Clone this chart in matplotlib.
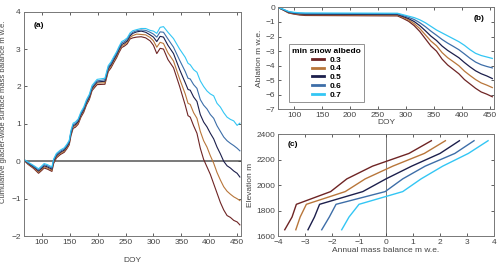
import numpy as np
import matplotlib
matplotlib.use("Agg")
import matplotlib.pyplot as plt

plt.rcParams['font.family'] = ['Liberation Sans', 'DejaVu Sans']

albedo = ['0.3', '0.4', '0.5', '0.6', '0.7']
colors = ['#6e2424', '#b8763a', '#1c1f4c', '#3d6ea8', '#33c6f4']

# (a) cumulative glacier-wide surface mass balance
doy_a = [67, 75, 85, 94, 100, 104, 110, 118, 121, 126, 133, 140, 145, 149, 152,
         156, 160, 165, 170, 175, 180, 185, 190, 195, 199, 213, 219, 224, 229, 234,
         238, 243, 248, 253, 258, 263, 270, 278, 286, 294, 300, 306, 312, 318, 326,
         336, 347, 357, 362, 366, 372, 378, 384, 390, 396, 402, 408, 414, 420, 426,
         432, 438, 444, 450, 455]
smb_03 = [0.04, -0.08, -0.19, -0.32, -0.24, -0.18, -0.21, -0.27, -0.06, 0.09, 0.18, 0.24, 0.34, 0.44, 0.68,
          0.88, 0.91, 0.99, 1.18, 1.31, 1.51, 1.65, 1.89, 1.98, 2.05, 2.06, 2.40, 2.50, 2.64, 2.77,
          2.90, 3.04, 3.08, 3.14, 3.27, 3.30, 3.32, 3.33, 3.30, 3.22, 3.10, 2.88, 3.02, 3.00, 2.72,
          2.50, 2.00, 1.50, 1.22, 1.18, 0.95, 0.75, 0.35, 0.05, -0.15, -0.35, -0.60, -0.85, -1.10, -1.30,
          -1.45, -1.50, -1.58, -1.62, -1.70]
smb_04 = [0.045, -0.065, -0.17, -0.29, -0.21, -0.15, -0.18, -0.24, -0.03, 0.12, 0.21, 0.27, 0.37, 0.47, 0.72,
          0.92, 0.95, 1.02, 1.22, 1.35, 1.55, 1.69, 1.93, 2.02, 2.09, 2.10, 2.44, 2.54, 2.68, 2.81,
          2.94, 3.08, 3.12, 3.18, 3.31, 3.36, 3.40, 3.39, 3.38, 3.31, 3.22, 3.05, 3.18, 3.15, 2.90,
          2.68, 2.20, 1.80, 1.55, 1.52, 1.30, 1.15, 0.80, 0.55, 0.38, 0.15, -0.05, -0.30, -0.50, -0.68,
          -0.80, -0.88, -0.95, -1.00, -1.05]
smb_05 = [0.05, -0.05, -0.15, -0.26, -0.18, -0.12, -0.15, -0.21, 0.0, 0.15, 0.24, 0.30, 0.40, 0.50, 0.75,
          0.95, 0.98, 1.06, 1.25, 1.38, 1.58, 1.72, 1.96, 2.05, 2.12, 2.14, 2.48, 2.58, 2.72, 2.85,
          2.98, 3.12, 3.16, 3.22, 3.35, 3.42, 3.46, 3.48, 3.45, 3.38, 3.32, 3.20, 3.34, 3.32, 3.10,
          2.88, 2.45, 2.10, 1.92, 1.90, 1.72, 1.60, 1.25, 1.05, 0.92, 0.75, 0.60, 0.38, 0.20, 0.00,
          -0.12, -0.18, -0.26, -0.32, -0.42]
smb_06 = [0.055, -0.035, -0.13, -0.23, -0.15, -0.09, -0.12, -0.18, 0.03, 0.18, 0.27, 0.33, 0.43, 0.53, 0.78,
          0.98, 1.01, 1.10, 1.28, 1.41, 1.61, 1.75, 1.99, 2.08, 2.15, 2.18, 2.52, 2.62, 2.76, 2.89,
          3.02, 3.16, 3.20, 3.26, 3.39, 3.45, 3.49, 3.51, 3.50, 3.45, 3.40, 3.32, 3.46, 3.45, 3.27,
          3.05, 2.70, 2.40, 2.22, 2.20, 2.05, 1.95, 1.65, 1.50, 1.40, 1.25, 1.15, 0.95, 0.80, 0.65,
          0.55, 0.48, 0.42, 0.35, 0.28]
smb_07 = [0.06, -0.02, -0.11, -0.20, -0.12, -0.06, -0.09, -0.15, 0.06, 0.21, 0.30, 0.36, 0.46, 0.56, 0.82,
          1.02, 1.05, 1.13, 1.32, 1.45, 1.65, 1.79, 2.03, 2.12, 2.19, 2.22, 2.56, 2.66, 2.80, 2.93,
          3.06, 3.20, 3.24, 3.30, 3.43, 3.49, 3.52, 3.55, 3.55, 3.50, 3.48, 3.42, 3.58, 3.60, 3.45,
          3.28, 3.00, 2.78, 2.62, 2.58, 2.45, 2.38, 2.15, 2.00, 1.88, 1.80, 1.75, 1.55, 1.45, 1.30,
          1.18, 1.12, 1.08, 0.96, 1.02]

# (b) cumulative ablation
doy_b = [71, 80, 90, 100, 110, 120, 285, 295, 305, 315, 325, 335, 345, 355, 365,
         375, 385, 395, 405, 415, 425, 435, 445, 455]
abl_03 = [0, -0.17, -0.38, -0.46, -0.52, -0.55, -0.58, -0.75, -0.95, -1.25, -1.65, -2.15, -2.65, -3.00, -3.55,
          -3.95, -4.25, -4.55, -4.95, -5.25, -5.55, -5.80, -5.95, -6.13]
abl_04 = [0, -0.16, -0.36, -0.43, -0.48, -0.50, -0.53, -0.68, -0.86, -1.11, -1.45, -1.88, -2.31, -2.63, -3.10,
          -3.45, -3.72, -4.00, -4.37, -4.67, -4.95, -5.18, -5.33, -5.50]
abl_05 = [0, -0.15, -0.33, -0.40, -0.44, -0.46, -0.49, -0.62, -0.77, -0.97, -1.25, -1.60, -1.97, -2.27, -2.65,
          -2.95, -3.20, -3.45, -3.78, -4.08, -4.35, -4.55, -4.70, -4.88]
abl_06 = [0, -0.13, -0.30, -0.37, -0.40, -0.42, -0.44, -0.56, -0.68, -0.83, -1.05, -1.32, -1.63, -1.91, -2.20,
          -2.45, -2.67, -2.90, -3.19, -3.49, -3.75, -3.93, -4.05, -4.15]
abl_07 = [0, -0.12, -0.28, -0.34, -0.37, -0.38, -0.40, -0.50, -0.60, -0.70, -0.85, -1.05, -1.30, -1.55, -1.75,
          -1.95, -2.15, -2.35, -2.60, -2.90, -3.15, -3.30, -3.40, -3.50]

# (c) annual mass balance profiles
elev = [1650, 1750, 1850, 1950, 2050, 2150, 2250, 2350]
mb_03 = [-3.75, -3.48, -3.32, -2.05, -1.45, -0.50, 0.85, 1.68]
mb_04 = [-3.34, -3.18, -2.95, -1.51, -0.77, 0.25, 1.42, 2.20]
mb_05 = [-2.89, -2.65, -2.46, -0.86, 0.00, 0.95, 2.00, 2.72]
mb_06 = [-2.38, -2.10, -1.85, -0.03, 0.62, 1.45, 2.55, 3.26]
mb_07 = [-1.64, -1.37, -1.00, 0.62, 1.30, 2.10, 3.05, 3.78]

smb = [smb_03, smb_04, smb_05, smb_06, smb_07]
abl = [abl_03, abl_04, abl_05, abl_06, abl_07]
mb = [mb_03, mb_04, mb_05, mb_06, mb_07]

fs = 6
grey = '#444444'


def style(ax):
    ax.tick_params(direction='in', top=True, right=True, labelsize=fs,
                   colors=grey, length=2.5, width=0.6, pad=2)
    for s in ax.spines.values():
        s.set_color('#777777')
        s.set_linewidth(0.7)


fig = plt.figure(figsize=(5.0, 2.65), dpi=100)
ax1 = fig.add_axes([0.047, 0.109, 0.435, 0.847])
ax2 = fig.add_axes([0.556, 0.587, 0.432, 0.385])
ax3 = fig.add_axes([0.556, 0.109, 0.432, 0.384])

# panel a
for y, c in zip(smb, colors):
    ax1.plot(doy_a, y, color=c, lw=0.8)
ax1.axhline(0, color='#555555', lw=1.1, zorder=0)
ax1.set_xlim(67, 457)
ax1.set_ylim(-2, 4)
ax1.set_xticks(range(100, 451, 50))
ax1.set_yticks(range(-2, 5))
ax1.set_xlabel('DOY', fontsize=fs, color=grey, labelpad=8)
ax1.set_ylabel('Cumulative glacier-wide surface mass balance m w.e.',
               fontsize=5.5, color=grey, labelpad=2)
ax1.yaxis.set_label_coords(-0.075, 0.555)
ax1.text(0.045, 0.955, '(a)', transform=ax1.transAxes, fontsize=fs,
         fontweight='bold', va='top')
style(ax1)

# panel b
for y, c, a in zip(abl, colors, albedo):
    ax2.plot(doy_b, y, color=c, lw=0.9, label=a)
ax2.set_xlim(71, 458)
ax2.set_ylim(-7, 0)
ax2.set_xticks(range(100, 451, 50))
ax2.set_yticks(range(-7, 1))
ax2.set_xlabel('DOY', fontsize=fs, color=grey, labelpad=0)
ax2.set_ylabel('Ablation m w.e.', fontsize=fs, color=grey, labelpad=2)
ax2.text(0.955, 0.93, '(b)', transform=ax2.transAxes, fontsize=fs,
         fontweight='bold', va='top', ha='right')
style(ax2)
leg = ax2.legend(loc='lower left', bbox_to_anchor=(0.05, 0.07),
                 title='min snow albedo', fontsize=fs, title_fontsize=fs,
                 frameon=True, fancybox=False, edgecolor='#777777',
                 handlelength=1.5, labelspacing=0.12, borderpad=0.4,
                 handletextpad=0.6, borderaxespad=0)
leg.get_title().set_fontweight('bold')
for t in leg.get_texts():
    t.set_fontweight('bold')
for h in leg.get_lines():
    h.set_linewidth(2.0)
leg.get_frame().set_linewidth(0.7)

# panel c
for x, c in zip(mb, colors):
    ax3.plot(x, elev, color=c, lw=1.0)
ax3.axvline(0, color='#777777', lw=0.7, zorder=0)
ax3.set_xlim(-4, 4)
ax3.set_ylim(1600, 2400)
ax3.set_xticks(range(-4, 5))
ax3.set_yticks(range(1600, 2401, 200))
ax3.set_xlabel('Annual mass balance m w.e.', fontsize=fs, color=grey, labelpad=1)
ax3.set_ylabel('Elevation m', fontsize=fs, color=grey, labelpad=2)
ax3.text(0.045, 0.93, '(c)', transform=ax3.transAxes, fontsize=fs,
         fontweight='bold', va='top')
style(ax3)

fig.savefig('out.png', dpi=100)
